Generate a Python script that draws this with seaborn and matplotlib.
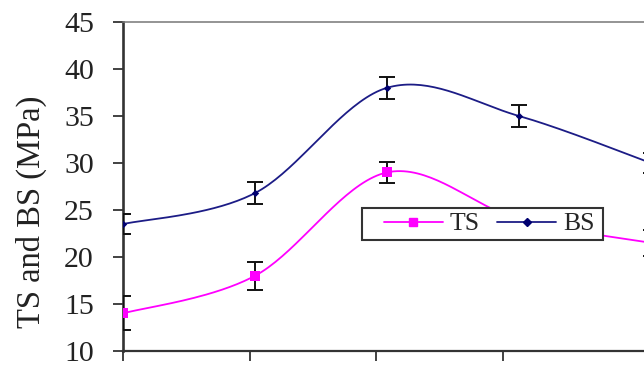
import numpy as np
import pandas as pd
import matplotlib
matplotlib.use("Agg")
import matplotlib.pyplot as plt
from matplotlib.lines import Line2D
from matplotlib.patches import Rectangle
import seaborn as sns

# values
positions = [0, 1, 2, 3, 4]
ts_mean = [14.0, 18.0, 29.0, 24.0, 21.5]
ts_err = [1.8, 1.5, 1.15, 1.2, 1.4]
bs_mean = [23.5, 26.8, 38.0, 35.0, 30.0]
bs_err = [1.1, 1.15, 1.15, 1.15, 1.1]

TS_COLOR = "#ff00ff"
BS_COLOR = "#1c1c86"


def smooth(x, y, n=40):
    # Excel-style smoothed line (Catmull-Rom through the data points)
    x = np.asarray(x, float)
    y = np.asarray(y, float)
    px = np.concatenate([[x[0]], x, [x[-1]]])
    py = np.concatenate([[y[0]], y, [y[-1]]])
    xs, ys = [], []
    for i in range(1, len(px) - 2):
        t = np.linspace(0, 1, n)
        mx0, mx1 = (px[i + 1] - px[i - 1]) / 2, (px[i + 2] - px[i]) / 2
        my0, my1 = (py[i + 1] - py[i - 1]) / 2, (py[i + 2] - py[i]) / 2
        h00 = 2 * t**3 - 3 * t**2 + 1
        h10 = t**3 - 2 * t**2 + t
        h01 = -2 * t**3 + 3 * t**2
        h11 = t**3 - t**2
        xs.append(h00 * px[i] + h10 * mx0 + h01 * px[i + 1] + h11 * mx1)
        ys.append(h00 * py[i] + h10 * my0 + h01 * py[i + 1] + h11 * my1)
    return np.concatenate(xs), np.concatenate(ys)


sns.set_style("white")
plt.rcParams["font.family"] = ["Liberation Serif", "DejaVu Serif"]

fig = plt.figure(figsize=(6.44, 3.66), dpi=100)
ax = fig.add_axes([123 / 644, 15 / 366, 521 / 644, 329 / 366])

df = pd.DataFrame({"pos": positions, "TS": ts_mean, "BS": bs_mean})

for col, color in [("TS", TS_COLOR), ("BS", BS_COLOR)]:
    sx, sy = smooth(df["pos"], df[col])
    sns.lineplot(x=sx, y=sy, sort=False, color=color, linewidth=1.3, ax=ax, zorder=2)

ax.errorbar(positions, ts_mean, yerr=ts_err, fmt="none", ecolor="#111111",
            elinewidth=1.4, capsize=5.5, capthick=1.4, zorder=3)
ax.errorbar(positions, bs_mean, yerr=bs_err, fmt="none", ecolor="#111111",
            elinewidth=1.4, capsize=5.5, capthick=1.4, zorder=3)

sns.scatterplot(data=df, x="pos", y="TS", marker="s", s=42, color=TS_COLOR,
                edgecolor=TS_COLOR, linewidth=0, ax=ax, zorder=4)
sns.scatterplot(data=df, x="pos", y="BS", marker="D", s=14, color="#000070",
                edgecolor="#000070", linewidth=0, ax=ax, zorder=4)

ax.set_xlim(0, 521 / 132)
ax.set_ylim(10, 45)
ax.set_yticks(np.arange(10, 46, 5))
ax.set_xticks(np.arange(4) * 0.96)
ax.set_xticklabels([])
ax.set_xlabel("")
ax.set_ylabel("TS and BS (MPa)", fontsize=23.5, color="#222222")
ax.yaxis.set_label_coords(-0.146, 0.424)

ax.tick_params(axis="y", direction="out", length=7, width=1.3, color="#333333",
               labelsize=21.5, labelcolor="#222222", pad=14, left=True)
ax.tick_params(axis="x", direction="out", length=7, width=1.3, color="#333333",
               bottom=True)

for side in ["left", "bottom"]:
    ax.spines[side].set_color("#333333")
ax.spines["left"].set_linewidth(1.9)
ax.spines["bottom"].set_linewidth(1.6)
ax.spines["top"].set_color("#777777")
ax.spines["top"].set_linewidth(1.1)
ax.spines["right"].set_visible(False)

# legend frame (wider side padding than matplotlib's own frame allows)
ax.add_patch(Rectangle((239 / 521, 111 / 329), 241 / 521, 32 / 329,
                       transform=ax.transAxes, facecolor="white",
                       edgecolor="#333333", linewidth=1.5, zorder=5))

handles = [
    Line2D([], [], color=TS_COLOR, linewidth=1.3, marker="s", markersize=6),
    Line2D([], [], color=BS_COLOR, linewidth=1.3, marker="D", markersize=3.8,
           markerfacecolor="#000070", markeredgecolor="#000070"),
]
leg = ax.legend(handles, ["TS", "BS"], ncol=2, loc="center",
                bbox_to_anchor=(366 / 521, 127 / 329), fontsize=18.5,
                frameon=False, borderpad=0.1,
                handlelength=2.3, handletextpad=0.25, columnspacing=0.7,
                borderaxespad=0)
leg.set_zorder(6)

fig.savefig("out.png", dpi=100)
